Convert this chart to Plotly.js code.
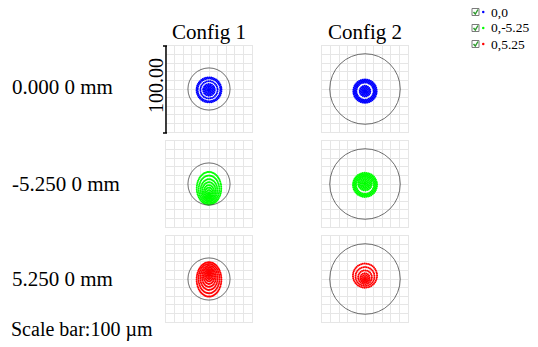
<!DOCTYPE html>
<html>
<head>
<meta charset="utf-8">
<script src="https://cdn.plot.ly/plotly-3.0.1.min.js"></script>
<style>html,body{margin:0;padding:0;background:#fff;} #chart{width:538px;height:347px;}</style>
</head>
<body>
<div id="chart"></div>
<script>
// ---- data (µm) ----
const configs = ['Config 1', 'Config 2'];
const fieldLabels = ['0.000 0 mm', '-5.250 0 mm', '5.250 0 mm'];
const legendNames = ['0,0', '0,-5.25', '0,5.25'];
const fieldColors = ['#0000ff', '#00ff00', '#ff0000'];
const airyRadius = [24.5, 41];
const scaleBarLabel = '100.00';
const scaleBarText = 'Scale bar:100 µm';

// ring radii (y) and ring centre y-offsets for every spot, plus x/y aspect
const c1f1R  = [14.5, 13.2, 10, 6.8, 5.3, 3.8, 2.4, 1.1];
const c1f1Cy = [-1, -1, -1, -1, -1, -1, -1, -1];
const c1f1Ax = 1;
const c2f1R  = [13.6, 12.4, 11.2, 10, 6.2, 4.8, 3.4, 2, 0.7];
const c2f1Cy = [-2.5, -2.5, -2.5, -2.5, -2.5, -2.5, -2.5, -2.5, -2.5];
const c2f1Ax = 1;
const c1f2R  = [19, 16, 13, 10.5, 8, 6, 4, 2.2, 0.7];
const c1f2Cy = [-5, -6.2, -7.4, -8.4, -9.4, -10.2, -11, -11.7, -12.3];
const c1f2Ax = 0.75;
const c2f2R  = [14, 12.8, 11.6, 10.4, 8, 6.5, 5, 3.5, 2, 0.6];
const c2f2Cy = [-1, -1, -1, -1, 0.5, 0.5, 0.5, 0.5, 0.5, 0.5];
const c2f2Ax = 1;
const c1f3R  = [20, 17, 14, 11.2, 8.6, 6.4, 4.4, 2.6, 1];
const c1f3Cy = [-0.5, 0.4, 1.3, 2.1, 2.9, 3.6, 4.2, 4.7, 5.2];
const c1f3Ax = 0.72;
const c2f3R  = [14, 11, 8, 5.5, 4, 2.5, 1];
const c2f3Cy = [3.95, 2.96, 1.97, 1.15, 0.65, 0.16, -0.34];
const c2f3Ax = 1;

const spots = [
  [[c1f1R, c1f1Cy, c1f1Ax], [c2f1R, c2f1Cy, c2f1Ax]],
  [[c1f2R, c1f2Cy, c1f2Ax], [c2f2R, c2f2Cy, c2f2Ax]],
  [[c1f3R, c1f3Cy, c1f3Ax], [c2f3R, c2f3Cy, c2f3Ax]]
];

// ---- layout geometry (pixels) ----
const W = 538, H = 347;
const colX = [[166, 252], [322, 408]];
const rowY = [[46, 132], [141, 227], [236, 322]];
const px = x => x / W;
const py = y => 1 - y / H;

const traces = [];
const layout = {
  width: W, height: H,
  margin: {l: 0, r: 0, t: 0, b: 0},
  paper_bgcolor: '#ffffff', plot_bgcolor: '#ffffff',
  showlegend: false,
  font: {family: 'Liberation Serif', color: '#000'},
  shapes: [], annotations: []
};

function ringPoints(R, Cy, ax) {
  const xs = [], ys = [];
  for (let i = 0; i < R.length; i++) {
    const n = Math.max(6, Math.round(R[i] * 3.1));
    for (let k = 0; k < n; k++) {
      const t = 2 * Math.PI * (k + 0.5 * (i % 2)) / n;
      xs.push(R[i] * ax * Math.cos(t));
      ys.push(Cy[i] + R[i] * Math.sin(t));
    }
  }
  return [xs, ys];
}

let idx = 0;
for (let r = 0; r < 3; r++) {
  for (let c = 0; c < 2; c++) {
    idx++;
    const sfx = idx === 1 ? '' : String(idx);
    const xa = 'xaxis' + sfx, ya = 'yaxis' + sfx;
    const axBase = {
      range: [-50, 50], tick0: -50, dtick: 10, showgrid: true,
      gridcolor: '#e6e6e6', gridwidth: 1, zeroline: false,
      showline: true, linecolor: '#e6e6e6', linewidth: 1, mirror: true,
      showticklabels: false, ticks: '', fixedrange: true
    };
    layout[xa] = Object.assign({}, axBase, {domain: [px(colX[c][0]), px(colX[c][1])], anchor: 'y' + sfx});
    layout[ya] = Object.assign({}, axBase, {domain: [py(rowY[r][1]), py(rowY[r][0])], anchor: 'x' + sfx});
    const [R, Cy, ax] = spots[r][c];
    const [xs, ys] = ringPoints(R, Cy, ax);
    traces.push({
      type: 'scatter', mode: 'markers', x: xs, y: ys,
      xaxis: 'x' + sfx, yaxis: 'y' + sfx,
      marker: {size: 2, color: fieldColors[r]}, hoverinfo: 'skip'
    });
    const ar = airyRadius[c];
    layout.shapes.push({
      type: 'circle', xref: 'x' + sfx, yref: 'y' + sfx,
      x0: -ar, x1: ar, y0: -ar, y1: ar,
      line: {color: '#4a4a4a', width: 0.8}, layer: 'above'
    });
  }
}

// scale bar on the first panel
layout.shapes.push({type: 'line', xref: 'paper', yref: 'paper', x0: px(166), x1: px(166), y0: py(46), y1: py(133), line: {color: '#000', width: 1.5}});
layout.shapes.push({type: 'line', xref: 'paper', yref: 'paper', x0: px(163), x1: px(167), y0: py(46), y1: py(46), line: {color: '#000', width: 1.5}});
layout.shapes.push({type: 'line', xref: 'paper', yref: 'paper', x0: px(163), x1: px(167), y0: py(133), y1: py(133), line: {color: '#000', width: 1.5}});
layout.annotations.push({xref: 'paper', yref: 'paper', x: px(156), y: py(86), text: scaleBarLabel, showarrow: false, textangle: -90, font: {size: 20}, xanchor: 'center', yanchor: 'middle'});

// column titles
const colCenters = [209, 365];
configs.forEach((t, i) => layout.annotations.push({
  xref: 'paper', yref: 'paper', x: px(colCenters[i]), y: py(32), text: t, showarrow: false,
  font: {size: 21}, xanchor: 'center', yanchor: 'middle'
}));
// row labels
const rowCenters = [87, 184, 279];
fieldLabels.forEach((t, i) => layout.annotations.push({
  xref: 'paper', yref: 'paper', x: px(10), y: py(rowCenters[i]), text: t, showarrow: false,
  font: {size: 21}, xanchor: 'left', yanchor: 'middle'
}));
layout.annotations.push({
  xref: 'paper', yref: 'paper', x: px(9), y: py(329), text: scaleBarText, showarrow: false,
  font: {size: 20}, xanchor: 'left', yanchor: 'middle'
});

// legend with check boxes
const legY = [12, 28, 44];
legendNames.forEach((name, i) => {
  const y = legY[i];
  layout.shapes.push({type: 'rect', xref: 'paper', yref: 'paper', x0: px(472), x1: px(479), y0: py(y + 3.5), y1: py(y - 3.5), line: {color: '#7a7a7a', width: 1}, fillcolor: '#ffffff'});
  layout.shapes.push({type: 'path', xref: 'paper', yref: 'paper',
    path: 'M ' + px(473.5) + ' ' + py(y) + ' L ' + px(475.3) + ' ' + py(y + 2) + ' L ' + px(478) + ' ' + py(y - 2.5),
    line: {color: '#2e9a2e', width: 1.4}});
  layout.shapes.push({type: 'circle', xref: 'paper', yref: 'paper', x0: px(482), x1: px(484.5), y0: py(y + 1.25), y1: py(y - 1.25), line: {width: 0}, fillcolor: fieldColors[i]});
  layout.annotations.push({xref: 'paper', yref: 'paper', x: px(489), y: py(y), text: name, showarrow: false, font: {size: 13.5}, xanchor: 'left', yanchor: 'middle'});
});

Plotly.newPlot('chart', traces, layout, {staticPlot: true, displayModeBar: false});
</script>
</body>
</html>
